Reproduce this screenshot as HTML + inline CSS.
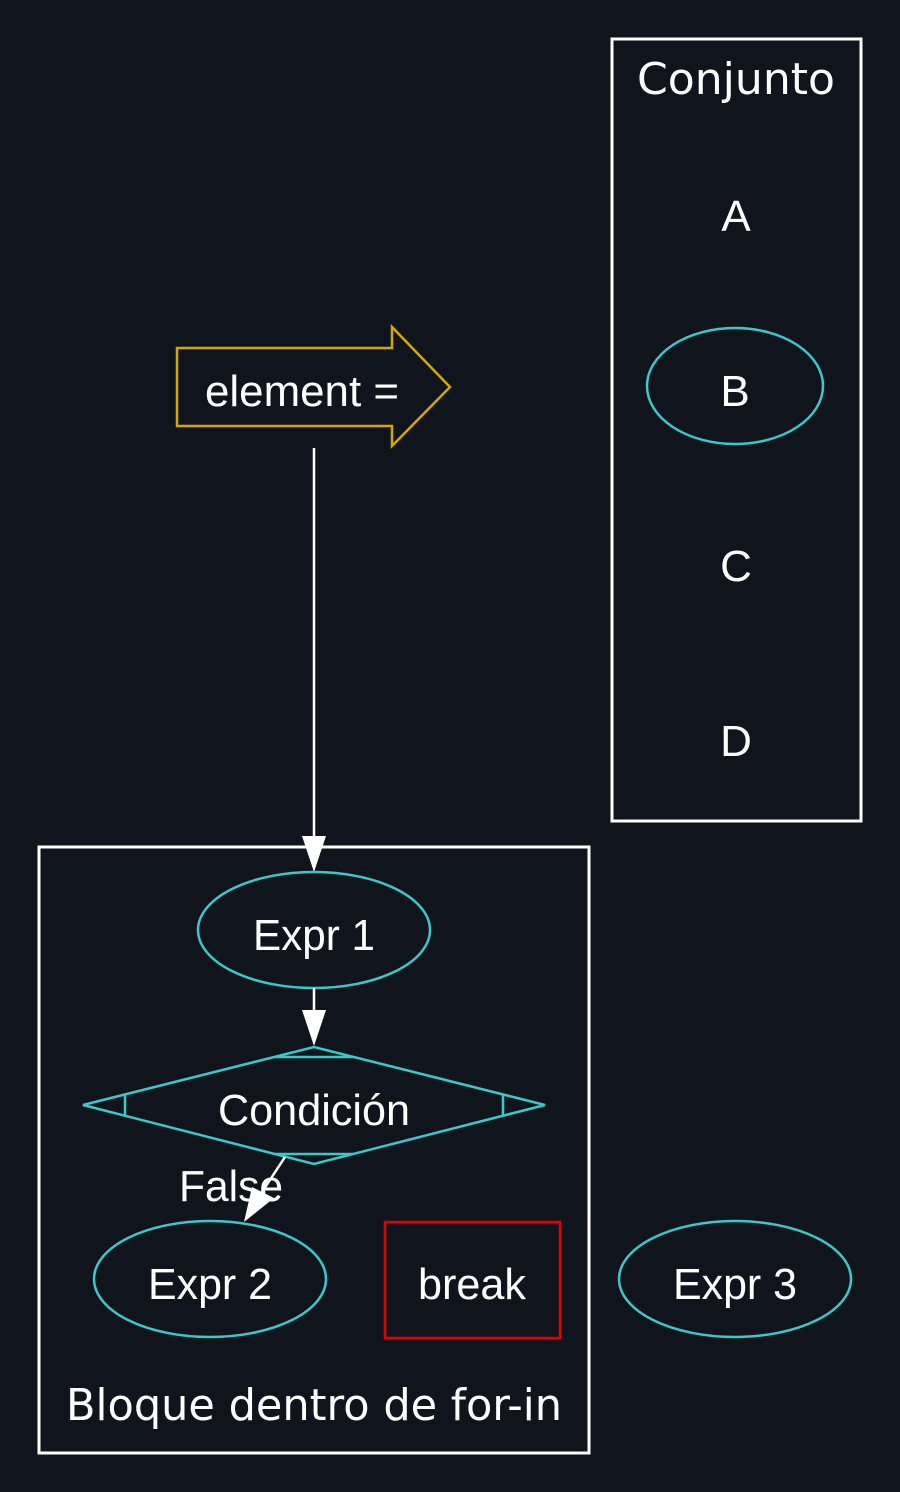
<!DOCTYPE html>
<html><head><meta charset="utf-8"><style>
html,body{margin:0;padding:0;background:#10151d;}
svg{display:block}
.t{font-family:"Liberation Sans",Arial,sans-serif;font-size:44px;fill:#fff;text-anchor:middle}
.c{font-family:"DejaVu Sans",sans-serif;font-size:44px;fill:#fff;text-anchor:middle}
</style></head><body>
<svg width="900" height="1492" viewBox="0 0 900 1492" xmlns="http://www.w3.org/2000/svg">
<rect width="900" height="1492" fill="#10151d"/>
<rect x="612" y="39" width="249" height="782" fill="none" stroke="#fff" stroke-width="3"/>
<text class="c" x="736" y="94" textLength="198" lengthAdjust="spacingAndGlyphs">Conjunto</text>
<text class="t" x="736" y="231">A</text>
<ellipse cx="735" cy="386" rx="88" ry="58" fill="none" stroke="#3cc8c8" stroke-width="2.5"/>
<text class="t" x="735" y="406">B</text>
<text class="t" x="736" y="581">C</text>
<text class="t" x="736" y="756">D</text>
<polygon points="177,348 392,348 392,327 450,387 392,446 392,426 177,426" fill="none" stroke="#d4a800" stroke-width="2.5"/>
<text class="t" x="302" y="406" textLength="194" lengthAdjust="spacingAndGlyphs">element =</text>
<line x1="314" y1="448" x2="314" y2="838" stroke="#fff" stroke-width="2.5"/>
<polygon points="302,836 326,836 314,872" fill="#fff"/>
<rect x="39" y="847" width="550" height="606" fill="none" stroke="#fff" stroke-width="3"/>
<text class="c" x="314" y="1420" textLength="496" lengthAdjust="spacingAndGlyphs">Bloque dentro de for-in</text>
<ellipse cx="314" cy="930" rx="116" ry="58" fill="none" stroke="#3cc8c8" stroke-width="2.5"/>
<text class="t" x="314" y="950" textLength="122" lengthAdjust="spacingAndGlyphs">Expr 1</text>
<line x1="314" y1="988" x2="314" y2="1012" stroke="#fff" stroke-width="2.5"/>
<polygon points="302,1010 326,1010 314,1046" fill="#fff"/>
<polygon points="83,1105 314,1047 545,1105 314,1164" fill="none" stroke="#3cc8c8" stroke-width="2.5"/>
<g stroke="#3cc8c8" stroke-width="2.5">
<line x1="125" y1="1095" x2="125" y2="1115"/>
<line x1="503" y1="1095" x2="503" y2="1115"/>
<line x1="275" y1="1057" x2="353" y2="1057"/>
<line x1="275" y1="1154" x2="353" y2="1154"/>
</g>
<text class="t" x="314" y="1125" textLength="192" lengthAdjust="spacingAndGlyphs">Condición</text>
<line x1="285" y1="1157" x2="262" y2="1192" stroke="#fff" stroke-width="2.5"/>
<polygon points="252,1187 274,1198 244,1222" fill="#fff"/>
<text class="t" x="231" y="1201" textLength="104" lengthAdjust="spacingAndGlyphs">False</text>
<ellipse cx="210" cy="1279" rx="116" ry="58" fill="none" stroke="#3cc8c8" stroke-width="2.5"/>
<text class="t" x="210" y="1299" textLength="124" lengthAdjust="spacingAndGlyphs">Expr 2</text>
<rect x="385" y="1222" width="175" height="116" fill="none" stroke="#e00000" stroke-width="2.5"/>
<text class="t" x="472" y="1299" textLength="108" lengthAdjust="spacingAndGlyphs">break</text>
<ellipse cx="735" cy="1279" rx="116" ry="58" fill="none" stroke="#3cc8c8" stroke-width="2.5"/>
<text class="t" x="735" y="1299" textLength="124" lengthAdjust="spacingAndGlyphs">Expr 3</text>
</svg>
</body></html>
